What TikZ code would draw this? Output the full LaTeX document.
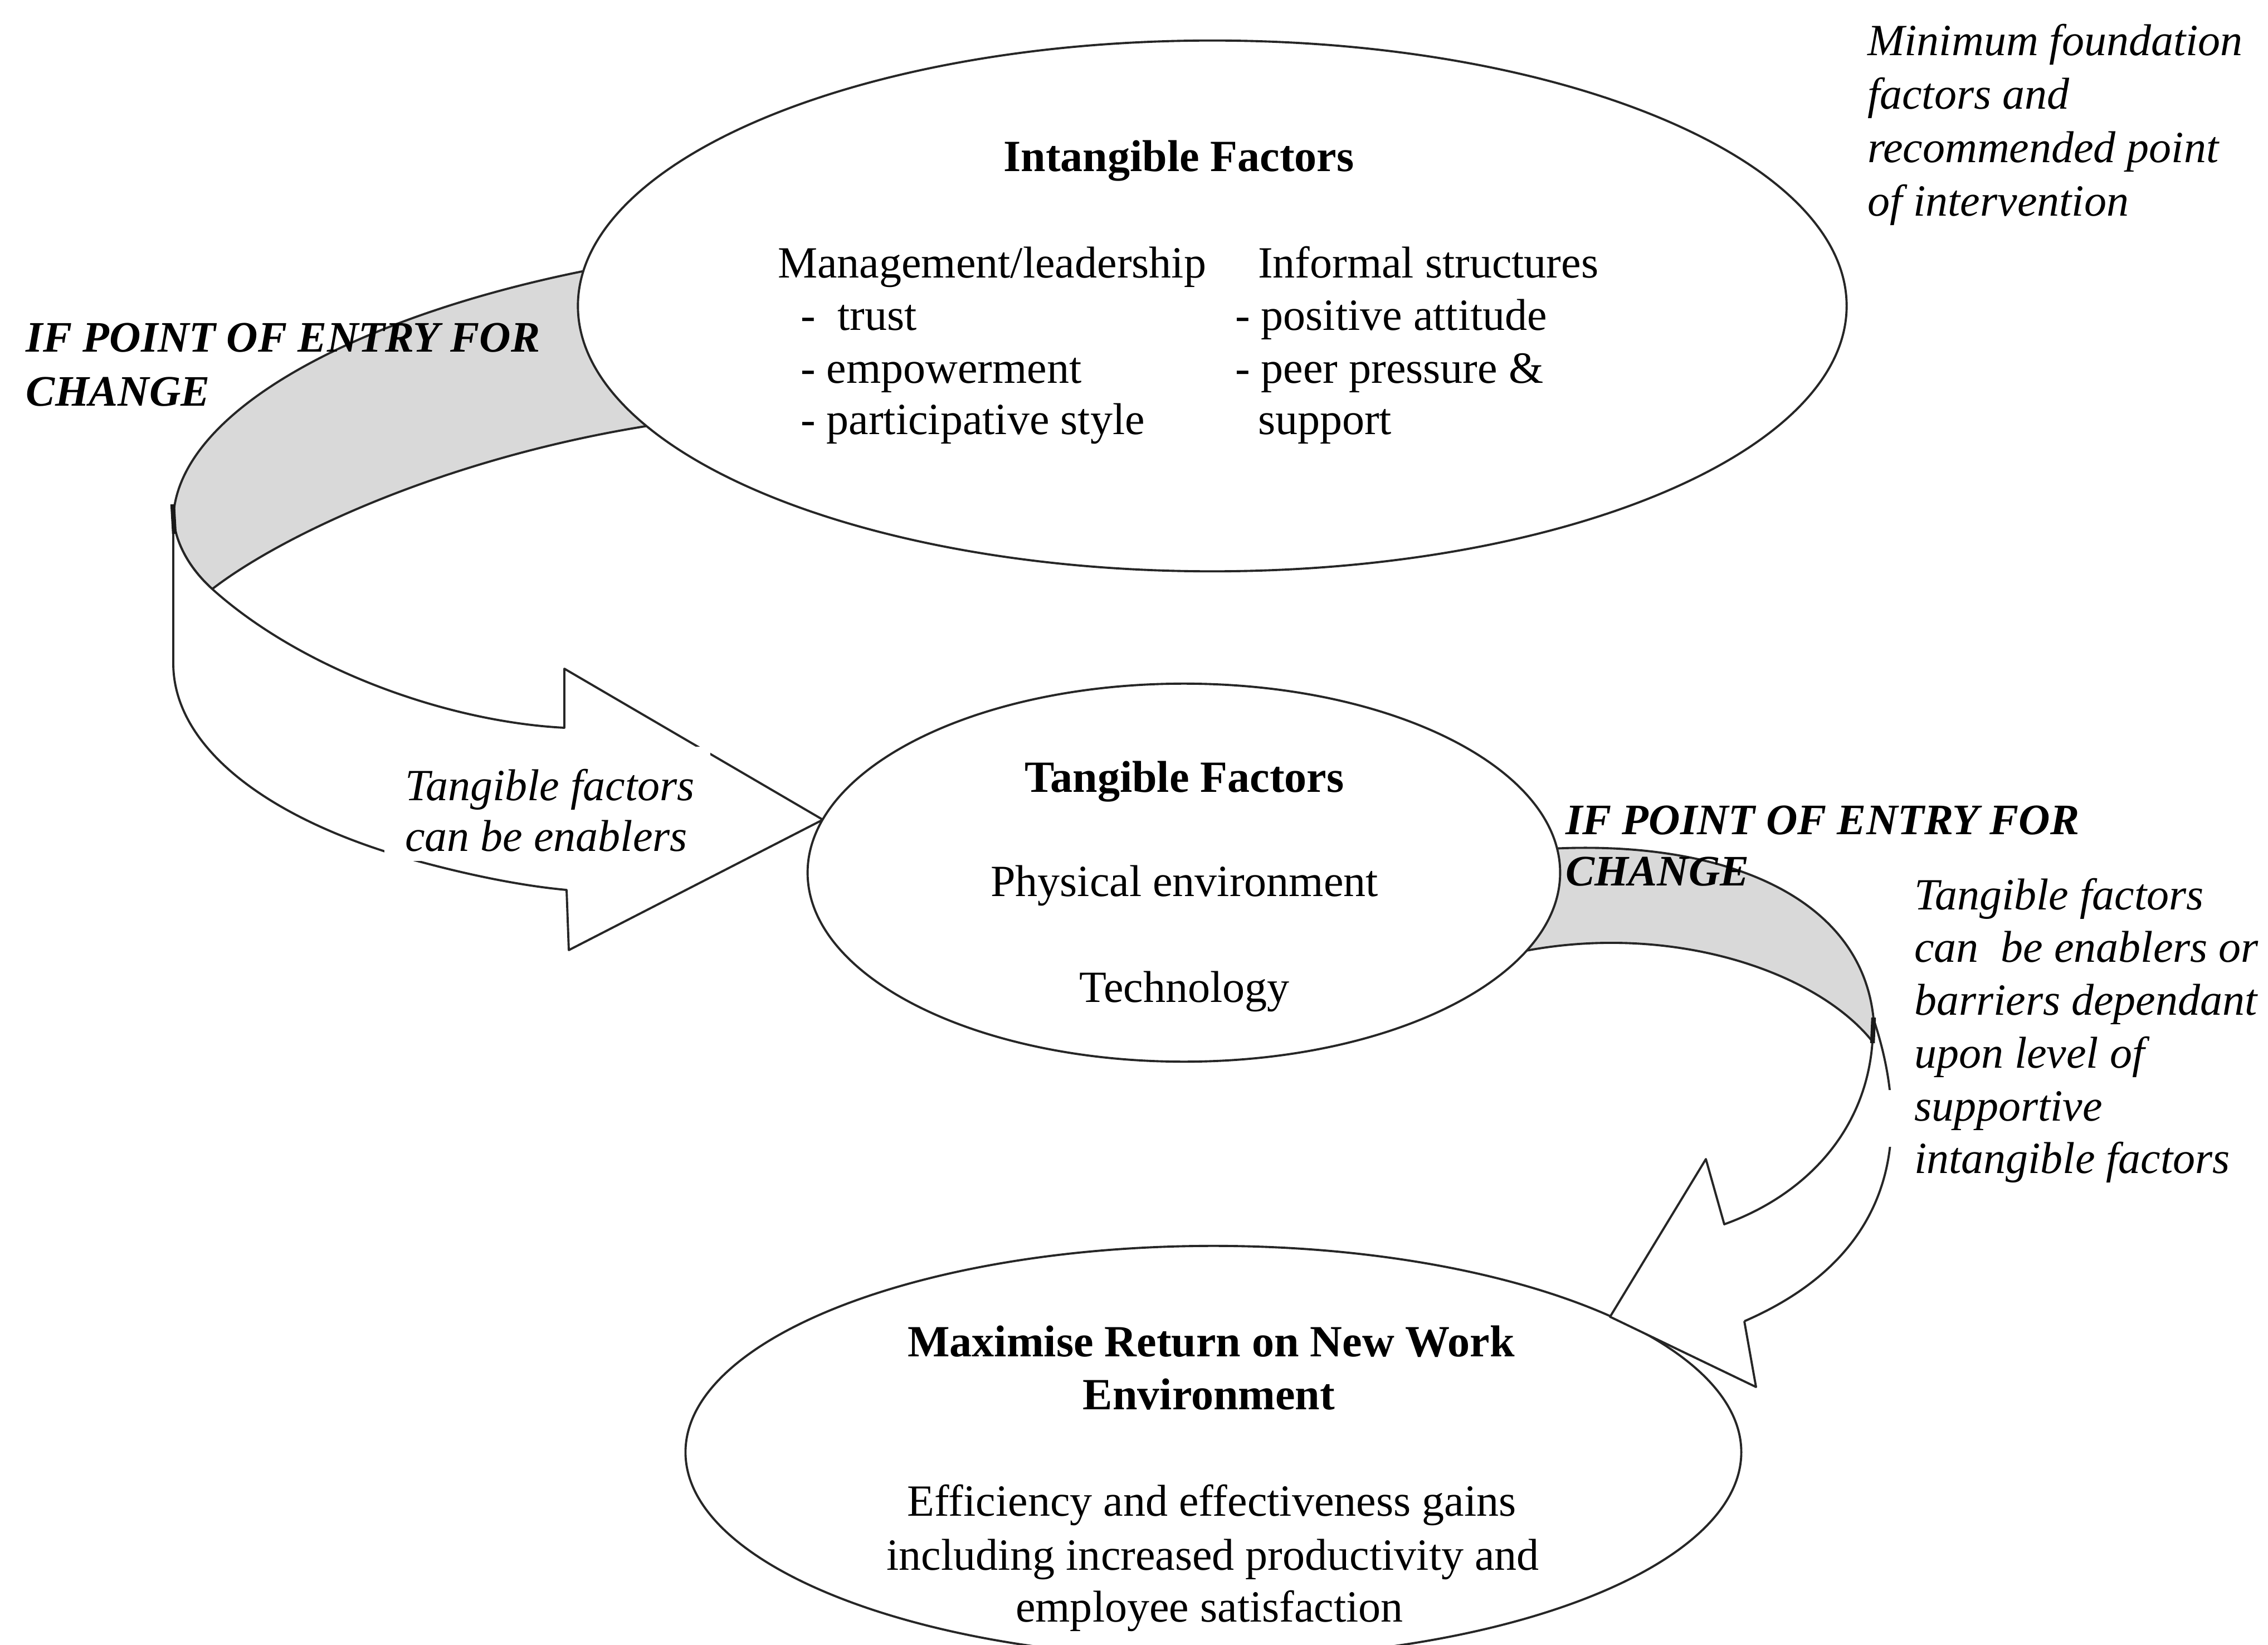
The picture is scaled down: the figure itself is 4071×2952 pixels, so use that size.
\documentclass[tikz,border=0pt]{standalone}
\usepackage{fontspec}
\setmainfont{Liberation Serif}
\usetikzlibrary{shapes.geometric}
\begin{document}
\begin{tikzpicture}[x=0.01cm, y=-0.01cm,
  every node/.style={inner sep=0pt, outer sep=0pt},
  txt/.style={font=\fontsize{22.76}{27}\selectfont},
  btxt/.style={font=\fontsize{22.76}{27}\selectfont\bfseries},
  itxt/.style={font=\fontsize{22.76}{27}\selectfont\itshape},
  bitxt/.style={font=\fontsize{22.2}{27}\selectfont\bfseries\itshape},
  edge/.style={draw=black!85, line width=1.1pt, line join=round},
  oval/.style={ellipse, edge, fill=white},
  backface/.style={edge, fill=black!15},
  frontface/.style={edge, fill=white},
  fold/.style={draw=black!90, line width=2.4pt},
]
% page
\fill[white] (0,0) rectangle (4071,2952);
\path[use as bounding box] (0,0) rectangle (4071,2952);

% outcome ellipse (drawn first so the right arrow sits on it)
\node[oval, minimum width=18.94cm, minimum height=7.4cm] (goal) at (2178,2606) {};

% ---- left ribbon arrow: intangible -> tangible ----
\filldraw[backface] (1150,468) .. controls (700,540) and (320,720) .. (311,929)
  .. controls (315,975) and (340,1020) .. (381,1057)
  .. controls (520,950) and (850,800) .. (1250,752) -- cycle;
\filldraw[frontface] (311,929) -- (311,1190)
  .. controls (311,1350) and (500,1480) .. (760,1548)
  .. controls (850,1572) and (940,1590) .. (1017,1597)
  -- (1021,1705) -- (1477,1471) -- (1013,1200) -- (1013,1306)
  .. controls (800,1295) and (540,1200) .. (381,1057)
  .. controls (340,1020) and (315,975) .. (311,929) -- cycle;
\draw[fold] (310,905) -- (313,958);

% ---- right ribbon arrow: tangible -> outcome ----
\filldraw[backface] (2700,1530) .. controls (3050,1490) and (3340,1590) .. (3363,1829)
  -- (3361,1869)
  .. controls (3250,1730) and (2950,1640) .. (2660,1725) -- cycle;
\fill[white] (3363,1829) .. controls (3430,2030) and (3410,2250) .. (3131,2371)
  -- (3152,2489) -- (2890,2363) -- (3062,2080) -- (3095,2197)
  .. controls (3240,2145) and (3350,2030) .. (3361,1869) -- cycle;
\begin{scope}
  \clip (3000,1750) rectangle (3500,1956) (3000,2058) rectangle (3500,2450);
  \draw[edge] (3363,1829) .. controls (3430,2030) and (3410,2250) .. (3131,2371);
\end{scope}
\draw[edge] (3131,2371) -- (3152,2489) -- (2890,2363) -- (3062,2080) -- (3095,2197)
  .. controls (3240,2145) and (3350,2030) .. (3361,1869);
\draw[fold] (3363,1826) -- (3361,1872);

% ---- factor ellipses ----
\node[oval, minimum width=22.76cm, minimum height=9.52cm] (intang) at (2176,549) {};
\node[oval, minimum width=13.5cm, minimum height=6.78cm] (tang) at (2125,1566) {};

% knock-out box behind the left arrow label
\node[fill=white, minimum width=5.85cm, minimum height=2.05cm, anchor=north west] (lbox) at (690,1340) {};

% ---- texts: intangible factors ----
\node[btxt, anchor=base] (intT) at (2116,308) {Intangible Factors};
\node[txt, anchor=base west] (m1) at (1396,499) {Management/leadership};
\node[txt, anchor=base west] (m2) at (1437,593) {-\ \ trust};
\node[txt, anchor=base west] (m3) at (1437,688) {- empowerment};
\node[txt, anchor=base west] (m4) at (1437,780) {- participative style};
\node[txt, anchor=base west] (i1) at (2258,499) {Informal structures};
\node[txt, anchor=base west] (i2) at (2217,593) {- positive attitude};
\node[txt, anchor=base west] (i3) at (2217,688) {- peer pressure \&};
\node[txt, anchor=base west] (i4) at (2258,780) {support};

% ---- texts: tangible factors ----
\node[btxt, anchor=base] (tanT) at (2126,1421) {Tangible Factors};
\node[txt, anchor=base] (t1) at (2126,1608) {Physical environment};
\node[txt, anchor=base] (t2) at (2126,1798) {Technology};

% ---- texts: outcome ----
\node[btxt, anchor=base] (g1) at (2174,2434) {Maximise Return on New Work};
\node[btxt, anchor=base] (g2) at (2170,2529) {Environment};
\node[txt, anchor=base] (g3) at (2175,2720) {Efficiency and effectiveness gains};
\node[txt, anchor=base] (g4) at (2177,2817) {including increased productivity and};
\node[txt, anchor=base] (g5) at (2171,2910) {employee satisfaction};

% ---- entry-point labels ----
\node[bitxt, anchor=base west] (e1) at (47,632) {IF POINT OF ENTRY FOR};
\node[bitxt, anchor=base west] (e2) at (47,729) {CHANGE};
\node[bitxt, anchor=base west] (e3) at (2810,1497) {IF POINT OF ENTRY FOR};
\node[bitxt, anchor=base west] (e4) at (2810,1589) {CHANGE};

% ---- arrow annotations ----
\node[itxt, anchor=base west] (l1) at (727,1436) {Tangible factors};
\node[itxt, anchor=base west] (l2) at (727,1527) {can be enablers};

\node[itxt, anchor=base west] (r1) at (3436,1632) {Tangible factors};
\node[itxt, anchor=base west] (r2) at (3436,1726) {can\ \ be enablers or};
\node[itxt, anchor=base west] (r3) at (3436,1821) {barriers dependant};
\node[itxt, anchor=base west] (r4) at (3436,1916) {upon level of};
\node[itxt, anchor=base west] (r5) at (3436,2011) {supportive};
\node[itxt, anchor=base west] (r6) at (3436,2105) {intangible factors};

\node[itxt, anchor=base west] (n1) at (3352,100) {Minimum foundation};
\node[itxt, anchor=base west] (n2) at (3352,196) {factors and};
\node[itxt, anchor=base west] (n3) at (3352,292) {recommended point};
\node[itxt, anchor=base west] (n4) at (3352,388) {of intervention};
\end{tikzpicture}
\end{document}
